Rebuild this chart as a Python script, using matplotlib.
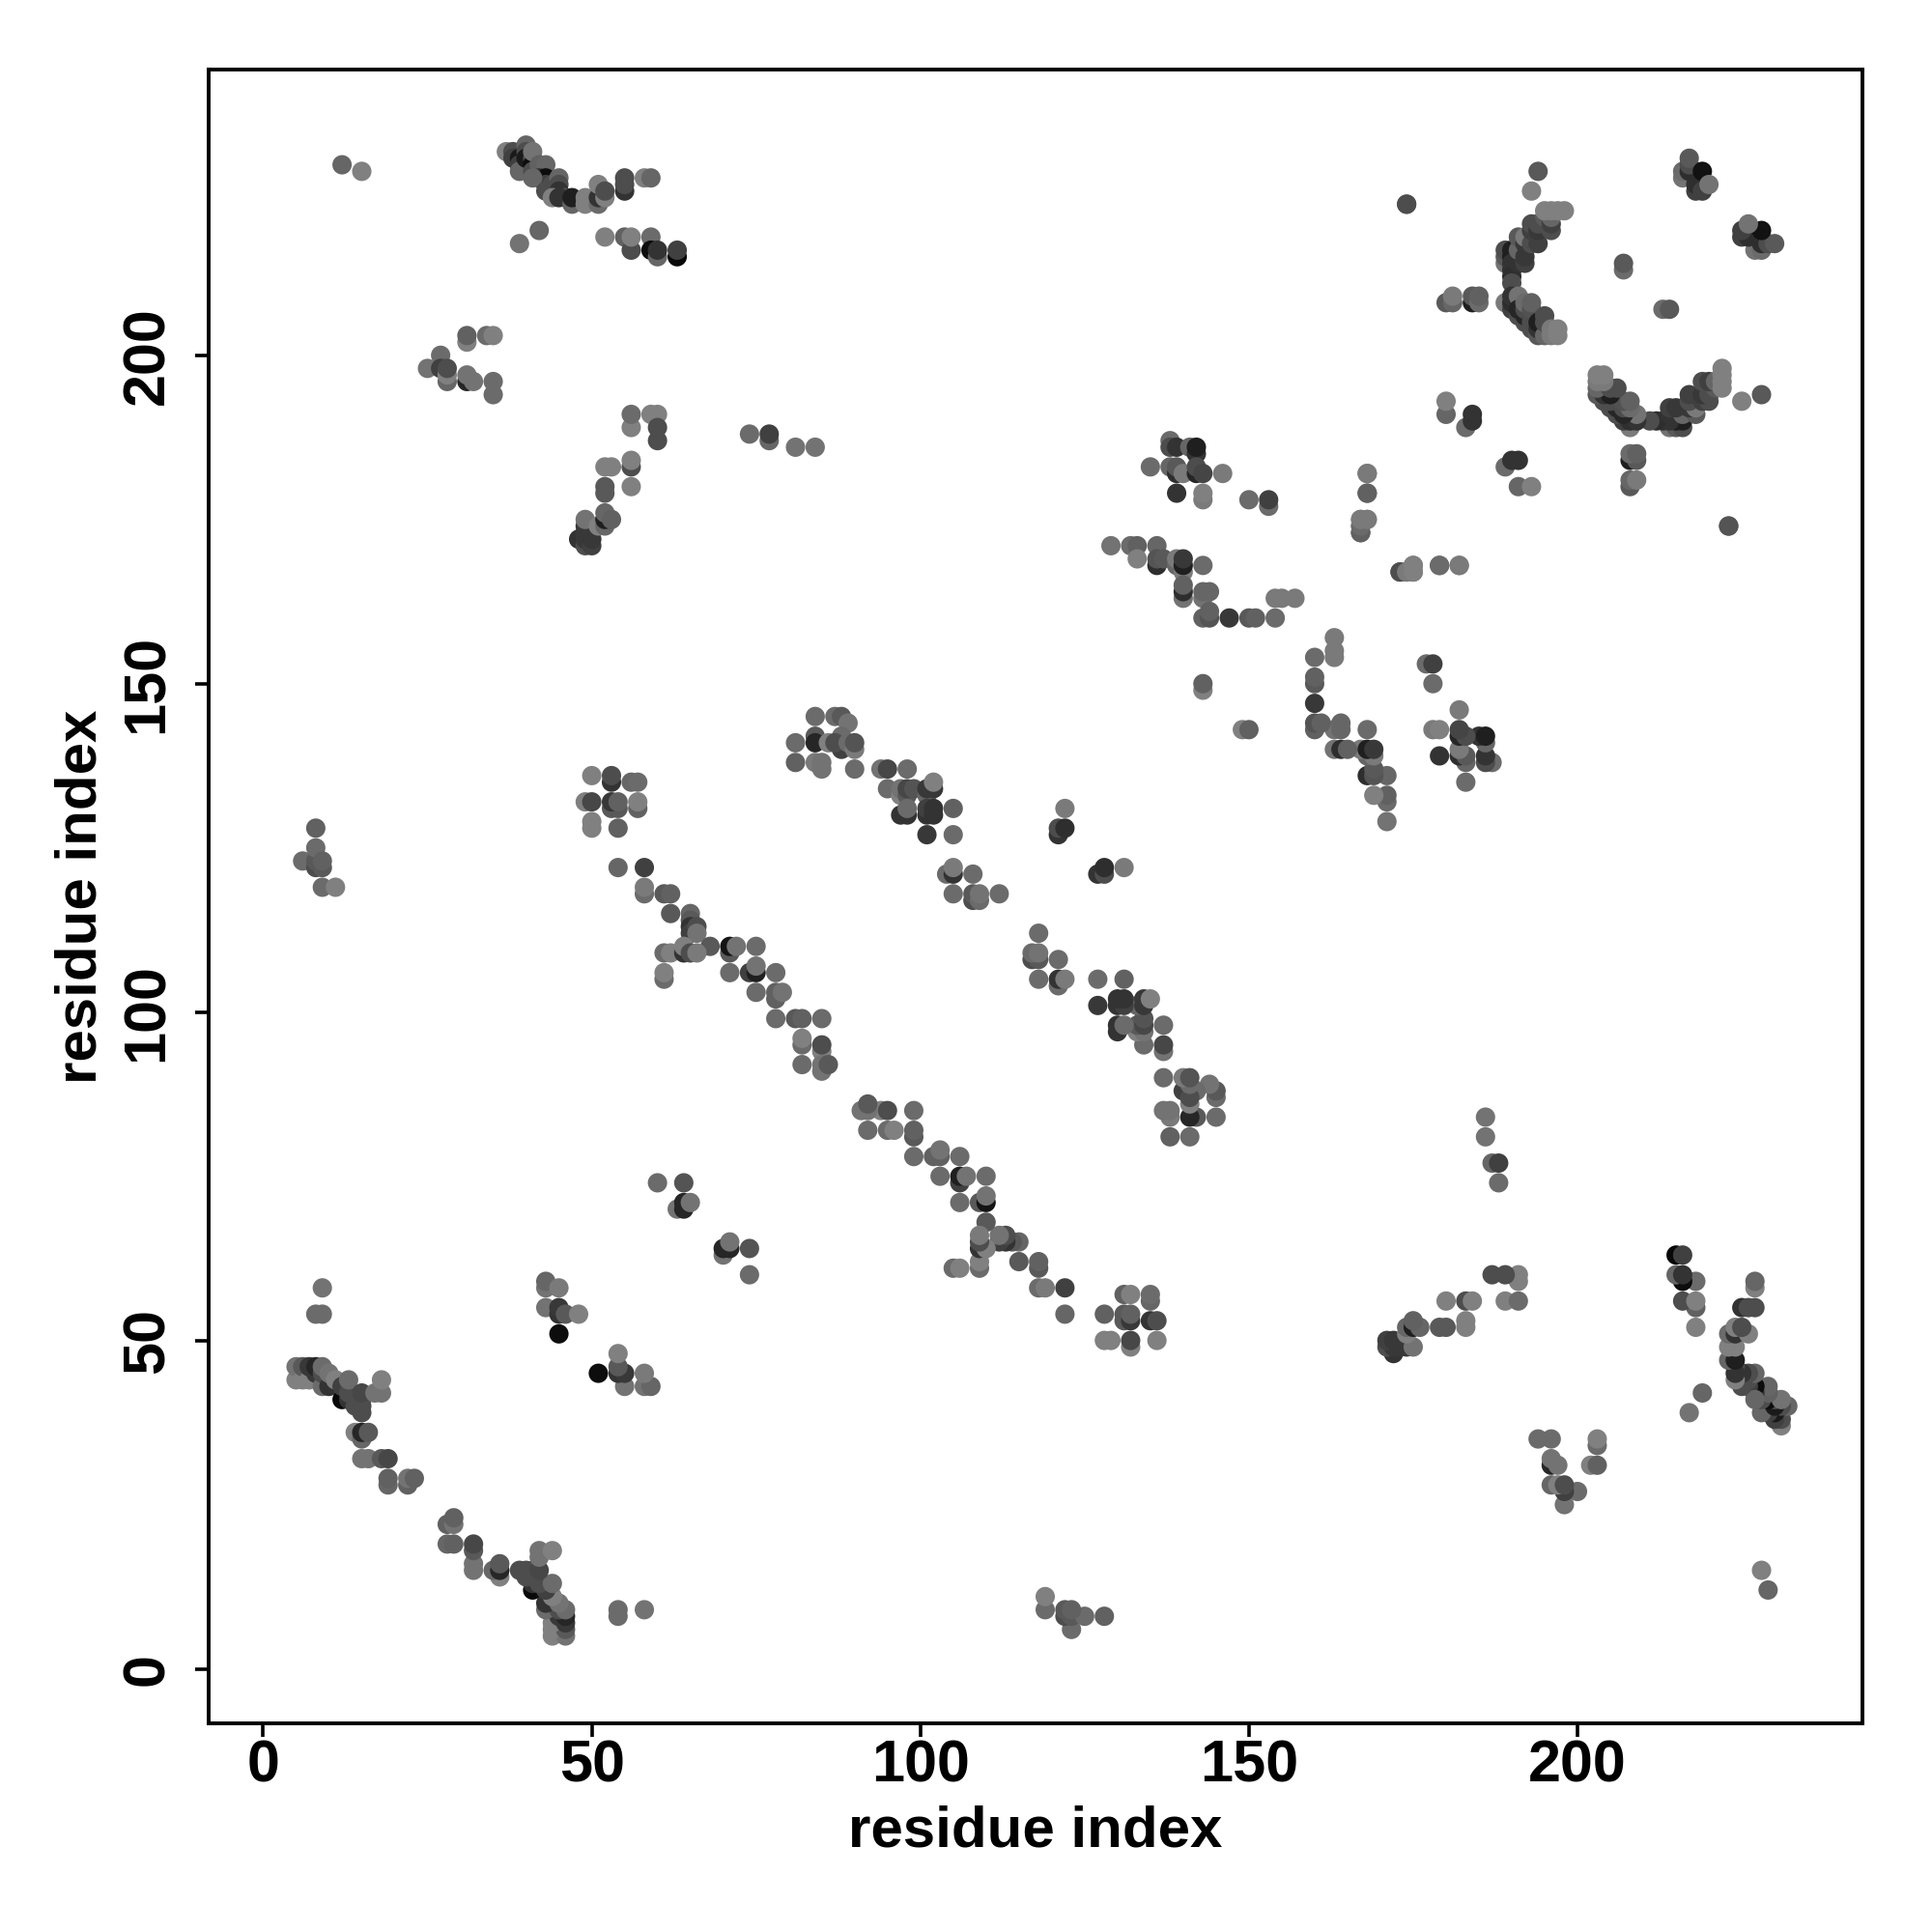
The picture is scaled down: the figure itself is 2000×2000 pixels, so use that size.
import matplotlib
matplotlib.use('Agg')
import matplotlib.pyplot as plt

# contacts above the diagonal as (residue_i, residue_j, grey level)
# the map is symmetric so the other half is plotted from the same lists
top_left = [
    (12, 229, .4), (15, 228, .5), (37, 231, .5), (38, 231, .3), (38, 230, .25), (39, 230, .1), (39, 229, .25), (39, 228, .4),
    (40, 232, .4), (40, 231, .3), (40, 230, .1), (41, 230, .3), (41, 229, .05), (41, 228, .3), (41, 231, .45), (42, 228, .1),
    (42, 229, .38), (43, 229, .4), (42, 227, .2), (43, 227, .05), (43, 226, .25), (44, 226, .3), (44, 225, .25), (41, 227, .4),
    (43, 225, .3), (45, 227, .4), (45, 226, .3), (45, 225, .2), (46, 224, .3), (44, 224, .5), (45, 224, .2), (47, 223, .4),
    (47, 224, .12), (49, 224, .5), (49, 223, .5), (51, 223, .42), (51, 224, .2), (51, 226, .5), (52, 224, .5), (52, 225, .3),
    (55, 225, .2), (55, 226, .3), (55, 227, .3), (58, 227, .5), (59, 227, .4),
    (42, 219, .4), (39, 217, .45), (52, 218, .5), (55, 218, .38), (56, 216, .3), (56, 218, .5), (59, 218, .42), (59, 216, .05),
    (60, 215, .4), (60, 216, .2), (63, 215, .03), (63, 216, .25),
]
block_a = [
    (31, 202, .5), (31, 203, .38), (34, 203, .42), (35, 203, .5), (27, 200, .42), (25, 198, .45), (27, 198, .25), (28, 196, .4),
    (28, 197, .5), (28, 198, .3), (31, 196, .15), (31, 197, .45), (32, 196, .45), (35, 194, .42), (35, 196, .42),
    (56, 189, .5), (56, 191, .42), (59, 191, .5), (60, 191, .5), (60, 187, .3), (60, 189, .3),
    (74, 188, .42), (77, 187, .4), (77, 188, .25), (81, 186, .45), (84, 186, .45),
    (52, 183, .5), (53, 183, .5), (56, 183, .3), (56, 184, .5), (56, 180, .5), (52, 179, .35), (52, 180, .35),
    (48, 172, .2), (49, 171, .3), (49, 172, .22), (49, 173, .22), (49, 174, .22), (50, 171, .25), (50, 172, .22), (49, 175, .45),
    (51, 174, .5), (52, 174, .4), (52, 175, .12), (52, 176, .4), (53, 175, .38),
]
chain_one = [
    (50, 136, .5), (53, 135, .2), (53, 136, .3), (56, 135, .4), (57, 135, .42), (49, 132, .5), (50, 132, .28), (53, 131, .35),
    (54, 131, .35), (53, 132, .22), (54, 132, .38), (57, 131, .38), (57, 132, .5), (50, 128, .5), (50, 129, .5), (54, 128, .38),
    (54, 122, .4), (58, 122, .25), (58, 118, .42), (58, 119, .48), (61, 118, .35), (62, 118, .38), (62, 115, .35),
    (65, 115, .4), (65, 114, .35), (65, 113, .2), (65, 112, .25), (66, 113, .3), (66, 112, .45), (68, 110, .35),
    (61, 109, .42), (62, 109, .5), (64, 109, .2), (64, 110, .5), (65, 109, .3), (66, 109, .48), (71, 109, .35), (71, 110, .08),
    (72, 110, .45), (75, 110, .42), (61, 105, .42), (61, 106, .5), (71, 106, .42), (74, 106, .25), (75, 106, .12), (75, 107, .45),
    (78, 106, .42), (75, 103, .42), (78, 102, .38), (78, 103, .38), (79, 103, .45), (78, 99, .42), (81, 99, .35), (82, 99, .38),
    (85, 99, .42), (82, 95, .42), (82, 96, .5), (85, 94, .5), (85, 95, .3), (82, 92, .42), (85, 91, .45), (85, 92, .45), (86, 92, .35),
]
chain_two = [
    (84, 145, .42), (87, 145, .42), (88, 145, .35), (89, 144, .45), (84, 142, .35), (84, 141, .15), (81, 141, .42), (81, 138, .38),
    (86, 141, .5), (84, 138, .48), (85, 138, .45), (85, 137, .45), (88, 140, .25), (88, 142, .42), (87, 141, .3), (89, 141, .42),
    (90, 140, .48), (90, 141, .33), (90, 137, .42),
    (94, 137, .45), (95, 137, .28), (98, 137, .42), (95, 134, .42), (97, 133, .5), (97, 134, .45), (98, 133, .35), (98, 134, .28),
    (99, 134, .33), (101, 133, .4), (101, 134, .22), (102, 134, .22), (102, 135, .5), (97, 130, .2), (98, 130, .2), (98, 131, .42),
    (101, 130, .2), (101, 131, .25), (102, 130, .2), (102, 131, .2), (105, 131, .38), (101, 127, .22), (105, 127, .42),
    (121, 127, .2), (121, 128, .3), (122, 128, .18), (122, 131, .48),
    (104, 121, .42), (105, 121, .2), (105, 122, .48), (108, 121, .42), (105, 118, .42), (108, 117, .3), (108, 118, .35),
    (109, 117, .42), (109, 118, .45), (112, 118, .42), (143, 149, .5), (143, 150, .38),
]
lower_left = [
    (9, 58, .45), (8, 54, .42), (9, 54, .42),
    (5, 44, .5), (5, 46, .45), (6, 44, .5), (6, 46, .35), (7, 44, .5), (7, 46, .22), (8, 45, .22), (8, 46, .15), (9, 43, .42),
    (9, 45, .3), (9, 46, .42), (10, 43, .2), (10, 45, .45), (11, 44, .5), (12, 41, .03), (12, 43, .25), (13, 41, .2), (13, 42, .3),
    (13, 44, .42), (14, 40, .3), (15, 39, .3), (15, 40, .3), (15, 41, .3), (15, 42, .28), (17, 42, .45), (18, 42, .45), (18, 44, .5),
    (14, 36, .5), (15, 35, .4), (15, 36, .15), (16, 36, .35), (15, 32, .45), (16, 32, .45), (18, 32, .35), (19, 32, .28),
    (19, 28, .4), (19, 29, .38), (22, 28, .38), (22, 29, .45), (23, 29, .38),
    (6, 123, .42), (8, 122, .3), (8, 123, .35), (8, 125, .42), (8, 128, .38), (9, 122, .35), (9, 119, .42), (9, 123, .38), (11, 119, .5),
    (43, 58, .45), (43, 59, .4), (45, 58, .48), (43, 55, .45), (45, 54, .2), (45, 55, .22), (46, 54, .35), (48, 54, .5), (45, 51, .05),
    (60, 74, .42), (64, 74, .33), (63, 70, .45), (64, 70, .15), (64, 71, .15), (65, 71, .45),
]
top_right = [
    (174, 223, .33), (193, 225, .5), (194, 228, .35),
    (216, 227, .45), (216, 228, .42), (217, 228, .18), (217, 229, .3), (217, 230, .35), (218, 225, .25), (218, 226, .18),
    (219, 225, .25), (219, 228, .07), (220, 226, .45), (207, 213, .42), (207, 214, .35),
    (189, 214, .45), (189, 215, .35), (189, 216, .3), (190, 215, .12), (190, 216, .12), (190, 214, .2), (190, 213, .2), (190, 212, .18),
    (190, 211, .3), (191, 214, .2), (191, 216, .4), (191, 218, .35), (192, 214, .25), (192, 215, .22), (192, 217, .22), (192, 218, .48),
    (193, 217, .3), (193, 219, .25), (193, 220, .3), (194, 217, .25), (194, 219, .22), (194, 220, .3), (195, 221, .35),
    (196, 219, .3), (196, 220, .25), (196, 221, .4), (195, 222, .5), (196, 222, .5), (197, 222, .5), (198, 222, .5),
    (189, 208, .48), (190, 207, .25), (190, 208, .18), (190, 209, .2), (191, 209, .45), (191, 206, .3), (191, 207, .15), (192, 205, .3),
    (192, 206, .15), (192, 207, .3), (192, 208, .42), (193, 204, .3), (193, 205, .3), (193, 207, .32), (193, 208, .38), (194, 203, .35),
    (194, 204, .2), (194, 205, .12), (195, 203, .4), (195, 205, .3), (195, 206, .3), (196, 203, .48), (196, 204, .48), (197, 203, .5), (197, 204, .5),
    (180, 208, .35), (181, 208, .4), (181, 209, .48), (184, 208, .12), (184, 209, .35), (185, 208, .42), (185, 209, .38),
    (180, 191, .4), (180, 193, .5), (183, 189, .42), (184, 190, .2), (184, 191, .2),
]
middle_right = [
    (138, 187, .42), (138, 186, .3), (139, 186, .2), (141, 186, .4), (142, 185, .2), (142, 186, .12), (135, 183, .42), (138, 183, .4),
    (139, 182, .18), (139, 183, .35), (140, 182, .48), (142, 182, .15), (142, 183, .3), (143, 182, .27), (146, 182, .48),
    (139, 179, .2), (143, 178, .48), (143, 179, .5), (150, 178, .42), (153, 177, .42), (153, 178, .25),
    (168, 182, .48), (168, 179, .42), (167, 173, .3), (167, 174, .48), (167, 175, .5), (168, 175, .5),
    (129, 171, .45), (132, 171, .42), (133, 171, .38), (136, 171, .4), (133, 169, .5), (136, 168, .18), (136, 169, .33), (137, 169, .35),
    (139, 168, .4), (139, 169, .48), (140, 167, .48), (140, 168, .12), (140, 169, .22), (143, 168, .42),
    (140, 163, .45), (140, 164, .18), (140, 165, .38), (143, 163, .45), (143, 164, .4), (144, 164, .4),
    (143, 160, .38), (144, 160, .33), (144, 161, .38), (147, 160, .22), (150, 160, .35), (151, 160, .38), (154, 160, .42),
    (154, 163, .48), (155, 163, .48), (157, 163, .48),
    (173, 167, .38), (174, 167, .42), (175, 167, .48), (175, 168, .48), (179, 168, .38), (182, 168, .48), (223, 174, .3),
]

all_contacts = top_left + block_a + chain_one + chain_two + lower_left + top_right + middle_right
residue_i = [c[0] for c in all_contacts]
residue_j = [c[1] for c in all_contacts]
grey = [str(c[2]) for c in all_contacts]

x_ticks = [0, 50, 100, 150, 200]
y_ticks = [0, 50, 100, 150, 200]

plt.rcParams['font.family'] = ['Liberation Sans', 'DejaVu Sans']
plt.rcParams['font.weight'] = 'bold'

fig = plt.figure(figsize=(10, 10), dpi=200)
ax = fig.add_axes([0.1080, 0.1080, 0.8558, 0.8560])

ax.scatter(residue_i, residue_j, s=52, c=grey, linewidths=0, zorder=3)
ax.scatter(residue_j, residue_i, s=52, c=grey, linewidths=0, zorder=3)

ax.set_xlim(-8.3, 243.3)
ax.set_ylim(-8.3, 243.5)
ax.set_xticks(x_ticks)
ax.set_yticks(y_ticks)
ax.tick_params(axis='both', length=5, width=1.3, labelsize=22)
ax.tick_params(axis='x', pad=0.8)
ax.tick_params(axis='y', pad=7.2)
plt.setp(ax.get_yticklabels(), rotation=90, va='center')
for s in ax.spines.values():
    s.set_linewidth(1.4)

ax.set_xlabel('residue index', fontsize=21.6, fontweight='bold', labelpad=4)
ax.set_ylabel('residue index', fontsize=21.6, fontweight='bold', labelpad=4.8)

plt.savefig('out.png', dpi=200)
